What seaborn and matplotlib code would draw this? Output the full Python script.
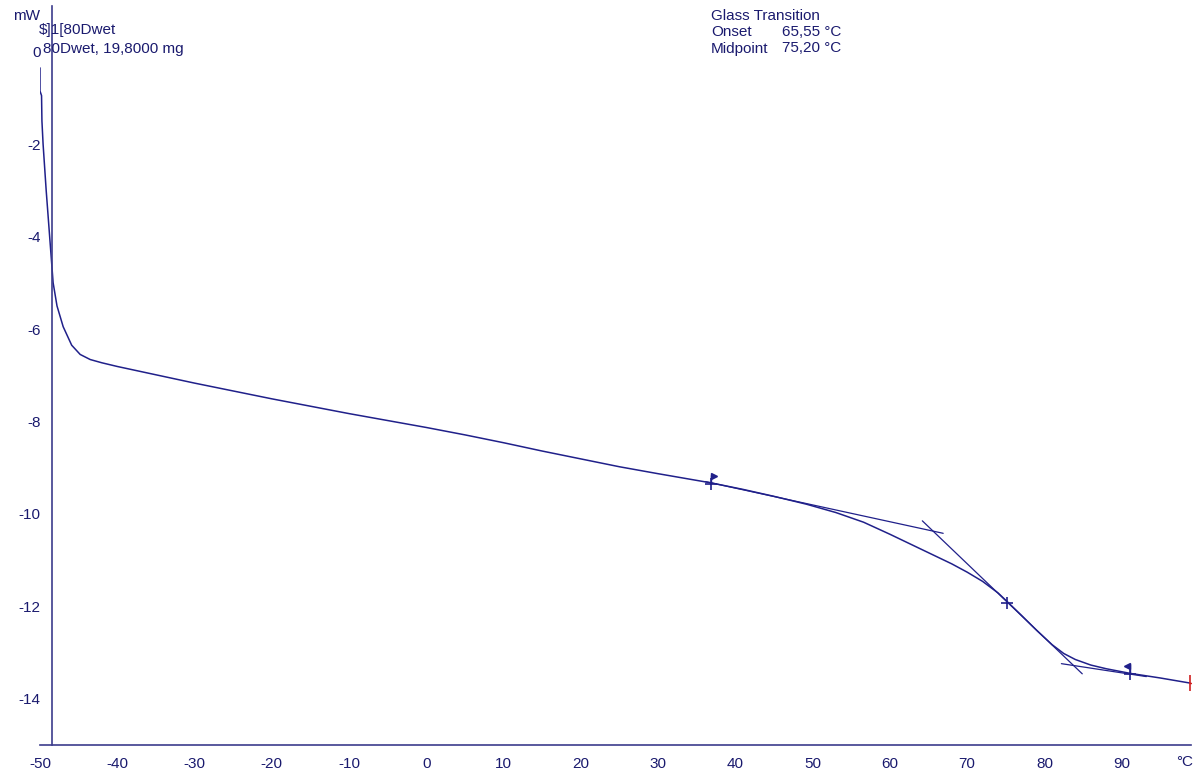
import numpy as np
import pandas as pd
import seaborn as sns
import matplotlib.pyplot as plt
from matplotlib.ticker import MultipleLocator


# DSC heat flow curve
temp = [-50.0, -50.0, -49.8, -49.75, -49.6, -49.2, -48.75, -48.3, -47.8, -47.0,
        -45.9, -44.8, -43.5, -42.0, -40.0, -35.0, -30.0, -25.0, -20.0, -15.0,
        -10.0, -5.0, 0.0, 5.0, 10.0, 15.0, 20.0, 25.0, 30.0, 36.9,
        41.0, 45.0, 49.2, 53.0, 56.6, 60.0, 62.0, 64.0, 66.0, 68.0,
        70.0, 72.0, 74.0, 75.2, 77.0, 79.0, 81.0, 82.5, 84.0, 86.0,
        88.0, 91.1, 95.0, 98.85]
heat_flow = [-0.35, -0.85, -0.95, -1.5, -2.0, -3.0, -4.0, -5.0, -5.5, -5.95,
             -6.35, -6.55, -6.66, -6.73, -6.81, -6.99, -7.17, -7.34, -7.51, -7.67,
             -7.83, -7.98, -8.13, -8.29, -8.46, -8.64, -8.81, -8.98, -9.13, -9.33,
             -9.47, -9.62, -9.79, -9.97, -10.18, -10.44, -10.60, -10.76, -10.92, -11.08,
             -11.26, -11.46, -11.71, -11.90, -12.19, -12.52, -12.83, -13.02, -13.15, -13.27,
             -13.35, -13.45, -13.55, -13.66]

# evaluation tangents
upper_tan_x = [36.1, 66.9]
upper_tan_y = [-9.30, -10.42]
infl_tan_x = [64.2, 84.9]
infl_tan_y = [-10.15, -13.46]
lower_tan_x = [82.2, 93.2]
lower_tan_y = [-13.24, -13.52]

# limit / midpoint markers
cross_x = [36.9, 75.2, 91.1]
cross_y = [-9.35, -11.93, -13.47]
end_x = 98.85
end_y = -13.66

NAVY = '#20208a'
AXIS = '#3c3c8c'
TEXT = '#1a1a6e'
FS = 11

sns.set_style('white')
plt.rcParams['font.family'] = ['Liberation Sans', 'DejaVu Sans']
plt.rcParams['axes.unicode_minus'] = False

df = pd.DataFrame({'Temperature': temp, 'HeatFlow': heat_flow})

fig = plt.figure(figsize=(11.99, 7.77), dpi=100)
ax = fig.add_axes([40 / 1199, 32 / 777, 1151.2 / 1199, 739.5 / 777])

sns.lineplot(data=df, x='Temperature', y='HeatFlow', ax=ax, sort=False,
             estimator=None, color=NAVY, linewidth=1.1)

for xs, ys in [(upper_tan_x, upper_tan_y), (infl_tan_x, infl_tan_y), (lower_tan_x, lower_tan_y)]:
    ax.plot(xs, ys, color=NAVY, linewidth=0.9)

ax.plot(cross_x, cross_y, linestyle='none', marker='+', markersize=9,
        markeredgewidth=1.2, color=NAVY)

# small flags at the evaluation limits
ax.plot([36.9, 36.9], [-9.35, -9.15], color=NAVY, linewidth=1.0)
ax.plot([37.3], [-9.19], marker='>', markersize=4, color=NAVY, linestyle='none')
ax.plot([91.1, 91.1], [-13.45, -13.25], color=NAVY, linewidth=1.0)
ax.plot([90.7], [-13.29], marker='<', markersize=4, color=NAVY, linestyle='none')

# red end marker
ax.plot([end_x], [end_y], marker='|', markersize=11, markeredgewidth=1.2, color='#d02020')
ax.plot([end_x + 0.2], [end_y], marker='_', markersize=5, markeredgewidth=1.0, color='#d02020')

ax.set_xlim(-50, 99)
ax.set_ylim(-15, 1)
ax.set_xlabel('')
ax.set_ylabel('')

ax.spines['top'].set_visible(False)
ax.spines['right'].set_visible(False)
ax.spines['left'].set_position(('data', -48.45))
for s in ['left', 'bottom']:
    ax.spines[s].set_color(AXIS)
    ax.spines[s].set_linewidth(1.2)

ax.xaxis.set_minor_locator(MultipleLocator(2))
ax.yaxis.set_minor_locator(MultipleLocator(1))
ax.set_xticks(np.arange(-50, 91, 10))
ax.set_yticks(np.arange(-14, 1, 2))

ax.tick_params(axis='both', which='both', direction='out', color=AXIS,
               labelcolor=TEXT, labelsize=FS, width=1.1)
ax.tick_params(axis='x', which='major', length=6, pad=3)
ax.tick_params(axis='x', which='minor', length=4)
ax.tick_params(axis='y', which='both', length=6, pad=2)

ax.annotate('°C', xy=(98.2, 0), xycoords=('data', 'axes fraction'),
            xytext=(0, -12.5), textcoords='offset points', ha='center', va='center',
            fontsize=FS, color=TEXT)

# header texts
fig.text(13 / 1199, 1 - 20 / 777, 'mW', fontsize=FS, color=TEXT, va='baseline')
fig.text(39 / 1199, 1 - 34 / 777, '$]1[80Dwet', fontsize=FS, color=TEXT, va='baseline')
fig.text(43 / 1199, 1 - 53 / 777, '80Dwet, 19,8000 mg', fontsize=FS, color=TEXT, va='baseline')

fig.text(711 / 1199, 1 - 20.5 / 777, 'Glass Transition', fontsize=FS, color=TEXT, va='baseline')
fig.text(711 / 1199, 1 - 36.5 / 777, 'Onset', fontsize=FS, color=TEXT, va='baseline')
fig.text(782 / 1199, 1 - 36.5 / 777, '65,55 °C', fontsize=FS, color=TEXT, va='baseline')
fig.text(711 / 1199, 1 - 52.5 / 777, 'Midpoint', fontsize=FS, color=TEXT, va='baseline')
fig.text(782 / 1199, 1 - 52.5 / 777, '75,20 °C', fontsize=FS, color=TEXT, va='baseline')

fig.savefig('out.png', dpi=100)
